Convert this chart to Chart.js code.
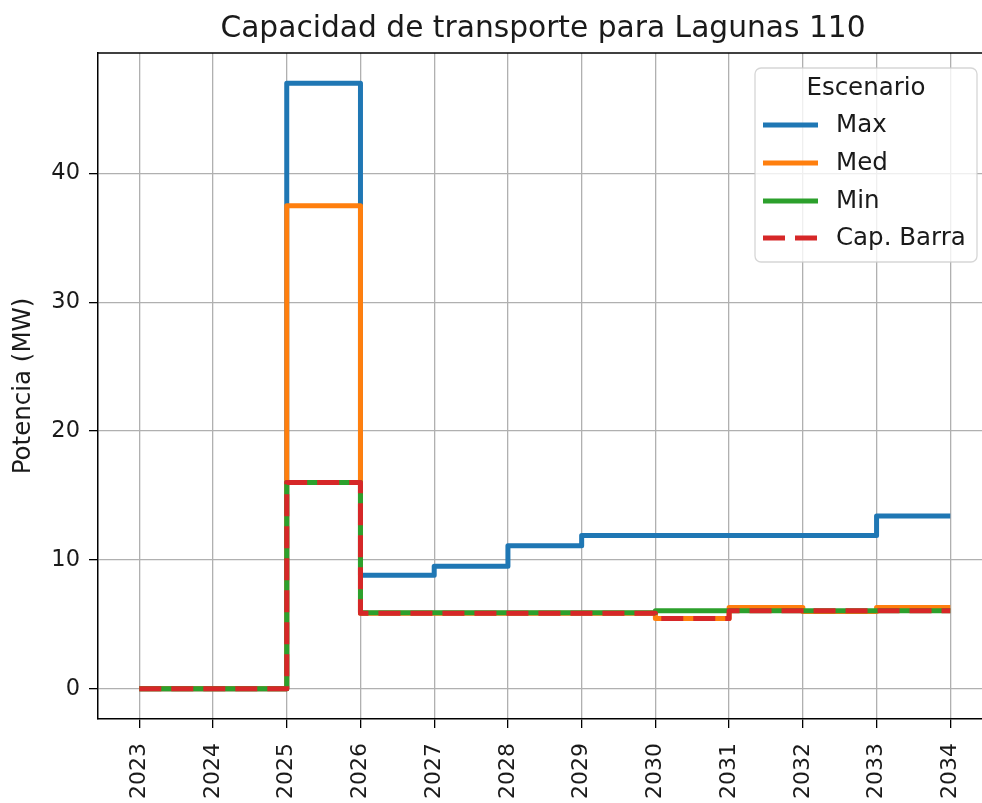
<!DOCTYPE html>
<html>
<head>
<meta charset="utf-8">
<script src="https://cdn.jsdelivr.net/npm/chart.js@4/dist/chart.umd.min.js"></script>
<style>
  html, body { margin: 0; padding: 0; background: #fff; }
  #wrap { width: 982px; height: 803px; }
</style>
</head>
<body>
<div id="wrap"><canvas id="capChart" width="982" height="803"></canvas></div>
<script>
// data (MW per year, step drawn "post")
const years = [2023, 2024, 2025, 2026, 2027, 2028, 2029, 2030, 2031, 2032, 2033, 2034];
const maxVals = [0, 0, 47.0, 8.8, 9.5, 11.1, 11.9, 11.9, 11.9, 11.9, 13.4, 13.4];
const medVals = [0, 0, 37.5, 5.85, 5.85, 5.85, 5.85, 5.45, 6.3, 6.0, 6.3, 6.3];
const minVals = [0, 0, 16.0, 5.9, 5.9, 5.9, 5.9, 6.05, 6.05, 6.05, 6.05, 6.05];
const capVals = [0, 0, 16.0, 5.85, 5.85, 5.85, 5.85, 5.45, 6.05, 6.05, 6.05, 6.05];
const yTicks = [0, 10, 20, 30, 40];
const seriesNames = ['Max', 'Med', 'Min', 'Cap. Barra'];

const FONT = "'DejaVu Sans', sans-serif";

function pts(vals) {
    return years.map((y, i) => ({ x: y, y: vals[i] }));
}

// title + top spine + legend box, drawn over the chart area
const extras = {
    id: 'extras',
    afterDraw(chart) {
        const ctx = chart.ctx;
        const a = chart.chartArea;
        ctx.save();
        // top spine
        ctx.strokeStyle = '#000';
        ctx.lineWidth = 1.5;
        ctx.beginPath();
        ctx.moveTo(a.left, a.top);
        ctx.lineTo(a.right, a.top);
        ctx.stroke();

        // title
        ctx.fillStyle = '#1a1a1a';
        ctx.font = '29.7px ' + FONT;
        ctx.textAlign = 'center';
        ctx.textBaseline = 'alphabetic';
        ctx.fillText('Capacidad de transporte para Lagunas 110', 543, 37);

        // legend
        const bx = 755, by = 68, bw = 222, bh = 194;
        ctx.fillStyle = 'rgba(255,255,255,0.8)';
        ctx.strokeStyle = 'rgba(204,204,204,0.8)';
        ctx.lineWidth = 1.3;
        ctx.beginPath();
        ctx.roundRect(bx, by, bw, bh, 6);
        ctx.fill();
        ctx.stroke();

        ctx.fillStyle = '#1a1a1a';
        ctx.font = '24.5px ' + FONT;
        ctx.textAlign = 'center';
        ctx.fillText('Escenario', 866, 95);

        const rowY = [125, 163, 201, 238];
        ctx.textAlign = 'left';
        ctx.textBaseline = 'middle';
        chart.data.datasets.forEach((ds, i) => {
            ctx.strokeStyle = ds.borderColor;
            ctx.lineWidth = 5;
            ctx.lineCap = 'butt';
            ctx.setLineDash(ds.borderDash || []);
            ctx.beginPath();
            ctx.moveTo(763, rowY[i]);
            ctx.lineTo(818, rowY[i]);
            ctx.stroke();
            ctx.setLineDash([]);
            ctx.fillStyle = '#1a1a1a';
            ctx.fillText(ds.label, 836, rowY[i] + 1);
        });
        ctx.restore();
    }
};

const ctx = document.getElementById('capChart').getContext('2d');
new Chart(ctx, {
    type: 'line',
    data: {
        datasets: [
            { label: seriesNames[0], data: pts(maxVals), borderColor: '#1f77b4', order: 4 },
            { label: seriesNames[1], data: pts(medVals), borderColor: '#ff7f0e', order: 3 },
            { label: seriesNames[2], data: pts(minVals), borderColor: '#2ca02c', order: 2 },
            { label: seriesNames[3], data: pts(capVals), borderColor: '#d62728', borderDash: [22, 10], order: 1 }
        ]
    },
    options: {
        responsive: false,
        animation: false,
        events: [],
        layout: { padding: { top: 53, right: 0, left: 0, bottom: 0 } },
        elements: {
            point: { radius: 0 },
            line: { borderWidth: 5, stepped: 'before', fill: false, borderJoinStyle: 'round', borderCapStyle: 'butt' }
        },
        plugins: {
            legend: { display: false },
            tooltip: { enabled: false },
            title: { display: false }
        },
        scales: {
            x: {
                type: 'linear',
                min: 2022.44,
                max: 2034.43,
                afterBuildTicks: axis => { axis.ticks = years.map(v => ({ value: v })); },
                afterFit: scale => {
                    scale.height = 84;
                    scale.paddingLeft = 0;
                    scale.paddingRight = 0;
                },
                ticks: {
                    minRotation: 90,
                    maxRotation: 90,
                    padding: 15,
                    color: '#1a1a1a',
                    font: { family: FONT, size: 22 },
                    callback: v => String(v)
                },
                grid: { color: '#b0b0b0', lineWidth: 1.3, tickColor: '#000', tickLength: 9, tickWidth: 1.3 },
                border: { color: '#000', width: 1.5 }
            },
            y: {
                min: -2.35,
                max: 49.35,
                afterBuildTicks: axis => { axis.ticks = yTicks.map(v => ({ value: v })); },
                afterFit: scale => {
                    scale.width = 98;
                    scale.paddingTop = 0;
                    scale.paddingBottom = 0;
                },
                ticks: {
                    padding: 9,
                    color: '#1a1a1a',
                    font: { family: FONT, size: 22.5 },
                    callback: v => String(v)
                },
                grid: { color: '#b0b0b0', lineWidth: 1.3, tickColor: '#000', tickLength: 9, tickWidth: 1.3 },
                border: { color: '#000', width: 1.5 },
                title: {
                    display: true,
                    text: 'Potencia (MW)',
                    color: '#1a1a1a',
                    font: { family: FONT, size: 24.5 },
                    padding: { top: 9, bottom: 0 }
                }
            }
        }
    },
    plugins: [extras]
});
</script>
</body>
</html>
